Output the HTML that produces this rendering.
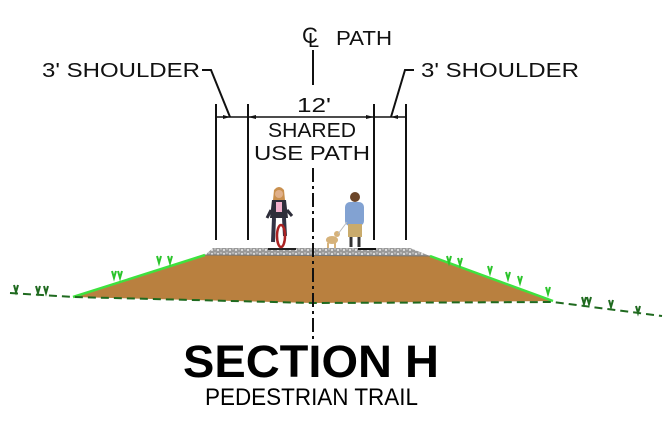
<!DOCTYPE html>
<html><head><style>body{margin:0;background:#fff}svg{display:block}</style></head><body>
<svg width="669" height="427" viewBox="0 0 669 427" xmlns="http://www.w3.org/2000/svg" font-family="Liberation Sans, sans-serif">
<defs><pattern id="g" width="6" height="4" patternUnits="userSpaceOnUse"><rect width="6" height="4" fill="#9a9a9a"/><circle cx="2" cy="2" r="1" fill="#eee"/><circle cx="5" cy="1" r="0.7" fill="#ddd"/></pattern></defs>
<!-- embankment -->
<polygon points="73,297 205,255 430,256 553,301 313,303" fill="#b9803f"/>
<polygon points="205,255 213,248 410,248 430,256" fill="url(#g)"/>
<line x1="205" y1="255" x2="430" y2="256" stroke="#777" stroke-width="1"/>
<line x1="73" y1="297" x2="205" y2="255" stroke="#3ee23e" stroke-width="2.5"/>
<line x1="430" y1="256" x2="553" y2="301" stroke="#3ee23e" stroke-width="2.5"/>
<polyline points="10,293 73,297 313,303 553,302 662,316" fill="none" stroke="#1f6a1f" stroke-width="2" stroke-dasharray="8,5"/>
<g stroke="#2bc42b" stroke-width="2" fill="none">
<path d="M112,271 l2,7 l2,-7 M118,271 l2,7 l2,-7"/>
<path d="M157,256 l2,7 l2,-7 M168,256 l2,7 l2,-7"/>
<path d="M447,256 l2,7 l2,-7 M458,258 l2,7 l2,-7"/>
<path d="M488,266 l2,7 l2,-7 M506,272 l2,7 l2,-7 M518,276 l2,7 l2,-7 M546,287 l2,7 l2,-7"/>
</g>
<g stroke="#1f6a1f" stroke-width="2" fill="none">
<path d="M14,285 l2,7 l2,-7 M36,286 l2,7 l2,-7 M44,286 l2,7 l2,-7"/>
<path d="M582,297 l2,7 l2,-7 M587,297 l2,7 l2,-7 M609,300 l2,7 l2,-7 M636,306 l2,7 l2,-7"/>
</g>
<!-- cyclist -->
<line x1="268" y1="249" x2="296" y2="249" stroke="#222" stroke-width="2"/>
<path d="M274,190 q5,-6 10,0 l1,10 h-12z" fill="#c9904f"/>
<circle cx="279" cy="194" r="4" fill="#e0b08a"/>
<path d="M272,200 h14 l2,18 h-18z" fill="#2e2e3a"/>
<rect x="276" y="202" width="6" height="10" fill="#f3b0cc"/>
<path d="M271,210 l-4,8 M287,210 l5,6" stroke="#2e2e3a" stroke-width="3"/>
<path d="M274,218 l-1,24 M284,218 l1,18" stroke="#334" stroke-width="4"/>
<ellipse cx="281" cy="236" rx="4" ry="11" fill="none" stroke="#a22" stroke-width="2.5"/>
<!-- walker -->
<circle cx="355" cy="197" r="5" fill="#6b4528"/>
<rect x="345" y="202" width="19" height="24" rx="5" fill="#82a2d2"/>
<rect x="348" y="224" width="14" height="13" fill="#c9ab6c"/>
<path d="M351,237 v10 M359,237 v10" stroke="#333" stroke-width="3"/>
<line x1="358" y1="249" x2="376" y2="249" stroke="#111" stroke-width="2"/>
<!-- dog -->
<ellipse cx="332" cy="240" rx="6" ry="4" fill="#d6b27a"/>
<circle cx="337" cy="234" r="3" fill="#d6b27a"/>
<path d="M328,243 v5 M335,243 v5" stroke="#d6b27a" stroke-width="2"/>
<line x1="338" y1="234" x2="347" y2="222" stroke="#bbb" stroke-width="1"/>
<!-- dimension lines -->
<g stroke="#111" stroke-width="2" fill="none">
<line x1="216" y1="104" x2="216" y2="240"/>
<line x1="248" y1="104" x2="248" y2="240"/>
<line x1="374" y1="104" x2="374" y2="240"/>
<line x1="406" y1="104" x2="406" y2="240"/>
<line x1="216" y1="117" x2="406" y2="117" stroke-width="1.5"/>
<polyline points="202,70 211,70 230,117"/>
<polyline points="414,70 405,70 391,117"/>
<line x1="313" y1="50" x2="313" y2="85"/>
<line x1="313" y1="168" x2="313" y2="340" stroke-dasharray="14,4,3,4"/>
</g>
<g fill="#111">
<polygon points="248,117 256,115 256,119"/><polygon points="374,117 366,115 366,119"/>
<polygon points="230,117 223,115 223,119"/><polygon points="391,117 398,115 398,119"/>
</g>
<g font-size="20" fill="#111">
<text x="42" y="77" textLength="158" lengthAdjust="spacingAndGlyphs">3' SHOULDER</text>
<text x="421" y="77" textLength="158" lengthAdjust="spacingAndGlyphs">3' SHOULDER</text>
<text x="302" y="43" font-size="22">C</text>
<text x="308" y="47" font-size="20">L</text>
<text x="336" y="45" textLength="56" lengthAdjust="spacingAndGlyphs">PATH</text>
<text x="297" y="112" textLength="34" lengthAdjust="spacingAndGlyphs">12'</text>
<text x="268" y="137" textLength="88" lengthAdjust="spacingAndGlyphs">SHARED</text>
<text x="254" y="160" textLength="116" lengthAdjust="spacingAndGlyphs">USE PATH</text>
</g>
<text x="183" y="377" font-size="45" font-weight="bold" textLength="256" lengthAdjust="spacingAndGlyphs">SECTION H</text>
<text x="205" y="405" font-size="24" textLength="213" lengthAdjust="spacingAndGlyphs">PEDESTRIAN TRAIL</text>
</svg>
</body></html>
